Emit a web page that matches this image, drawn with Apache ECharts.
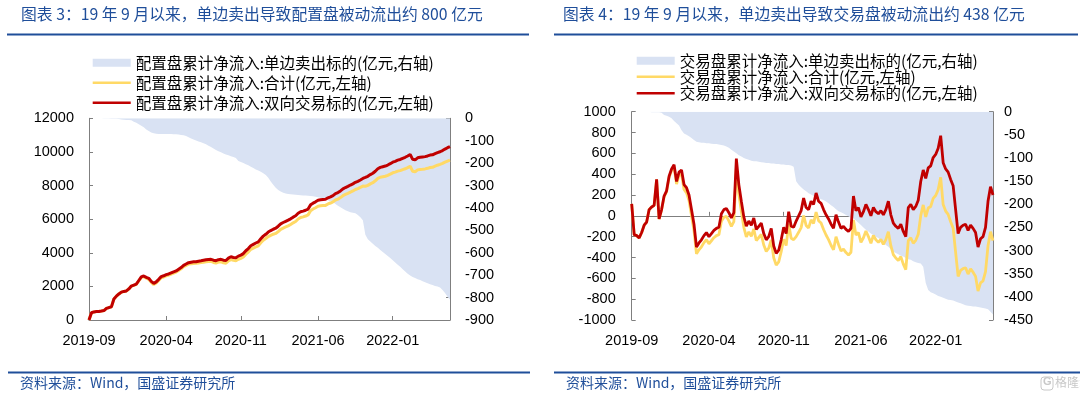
<!DOCTYPE html>
<html>
<head>
<meta charset="utf-8">
<script src="https://cdn.jsdelivr.net/npm/echarts@6/dist/echarts.min.js"></script>
<style>
html,body{margin:0;padding:0;background:#fff;}
#c{width:1080px;height:408px;}
</style>
</head>
<body>
<div id="c"></div>
<script>
// ---------- data ----------
const startWeek = '2019-09-02';
const weekCount = 146;
const tickLabels = ['2019-09', '2020-04', '2020-11', '2021-06', '2022-01'];

const categories = [];
(function () {
  const d0 = new Date(startWeek + 'T00:00:00Z');
  for (let i = 0; i < weekCount; i++) {
    const d = new Date(d0.getTime() + i * 7 * 86400000);
    categories.push(d.toISOString().slice(0, 10));
  }
})();

// Chart 3 (配置盘)
const peiOneSide = [
  0,0,0,0,0,0,-1,-1,-1,-2,-2,
  -2,-3,-5,-7,-8,-8,-9,-15,-20,-27,
  -33,-40,-50,-57,-63,-67,-69,-70,-70,-70,
  -70,-70,-70,-71,-71,-72,-74,-76,-79,-84,
  -90,-95,-99,-103,-107,-111,-116,-122,-128,-135,
  -141,-147,-152,-157,-161,-165,-169,-173,-177,-190,
  -195,-200,-205,-210,-216,-222,-228,-233,-238,-245,
  -253,-265,-282,-296,-310,-320,-327,-332,-336,-338,
  -339,-340,-341,-342,-343,-344,-345,-346,-347,-348,
  -350,-352,-355,-358,-362,-366,-370,-374,-382,-390,
  -397,-404,-410,-415,-419,-422,-424,-432,-442,-455,
  -520,-540,-550,-560,-570,-578,-588,-597,-606,-614,
  -623,-633,-643,-653,-662,-673,-684,-694,-701,-708,
  -713,-718,-722,-727,-731,-736,-740,-744,-748,-751,
  -755,-766,-780,-796,-808
];
const peiTotal = [
  0,430,480,500,510,530,559,689,739,778,1248,
  1418,1547,1655,1693,1722,1842,2011,2065,2120,2323,
  2527,2580,2490,2423,2237,2113,2201,2350,2510,2560,
  2630,2670,2730,2789,2849,2948,3046,3174,3251,3326,
  3350,3365,3371,3397,3413,3439,3464,3478,3482,3425,
  3389,3443,3458,3403,3379,3515,3591,3547,3523,3610,
  3665,3750,3915,4040,4204,4278,4352,4417,4592,4745,
  4847,4965,5038,5104,5150,5260,5393,5468,5534,5602,
  5681,5780,5859,6008,6097,6136,6185,6254,6503,6602,
  6680,6768,6795,6812,6818,6904,6960,7026,7138,7190,
  7283,7396,7470,7535,7611,7678,7766,7818,7888,7965,
  7960,8010,8100,8170,8280,8422,8492,8523,8554,8606,
  8677,8757,8797,8857,8888,8947,8996,9066,9149,8852,
  8817,8932,8958,8973,8989,9024,9070,9086,9152,9209,
  9255,9314,9390,9454,9512
];
const peiTwoWay = [
  0,430,480,500,510,530,560,690,740,780,1250,
  1420,1550,1660,1700,1730,1850,2020,2080,2140,2350,
  2560,2620,2540,2480,2300,2180,2270,2420,2580,2630,
  2700,2740,2800,2860,2920,3020,3120,3250,3330,3410,
  3440,3460,3470,3500,3520,3550,3580,3600,3610,3560,
  3530,3590,3610,3560,3540,3680,3760,3720,3700,3800,
  3860,3950,4120,4250,4420,4500,4580,4650,4830,4990,
  5100,5230,5320,5400,5460,5580,5720,5800,5870,5940,
  6020,6120,6200,6350,6440,6480,6530,6600,6850,6950,
  7030,7120,7150,7170,7180,7270,7330,7400,7520,7580,
  7680,7800,7880,7950,8030,8100,8190,8250,8330,8420,
  8480,8550,8650,8730,8850,9000,9080,9120,9160,9220,
  9300,9390,9440,9510,9550,9620,9680,9760,9850,9560,
  9530,9650,9680,9700,9720,9760,9810,9830,9900,9960,
  10010,10080,10170,10250,10320
];

// Chart 4 (交易盘)
const jyOneSide = [
  0,0,0,0,0,0,0,0,-1,-1,-1,
  -1,-2,-7,-9,-11,-14,-20,-25,-30,-40,
  -47,-50,-53,-57,-61,-65,-66,-67,-67,-68,
  -68,-69,-70,-70,-71,-72,-73,-75,-78,-82,
  -86,-90,-94,-97,-100,-102,-104,-106,-107,-107,
  -108,-109,-110,-111,-111,-112,-112,-113,-113,-114,
  -114,-115,-115,-116,-119,-150,-158,-163,-168,-172,
  -176,-179,-182,-184,-186,-189,-191,-194,-198,-202,
  -206,-211,-215,-217,-220,-223,-226,-229,-230,-235,
  -240,-245,-250,-255,-259,-263,-267,-270,-273,-277,
  -283,-288,-292,-297,-302,-305,-308,-311,-313,-316,
  -319,-320,-323,-325,-327,-328,-335,-370,-385,-390,
  -392,-395,-398,-400,-402,-404,-406,-407,-408,-410,
  -412,-414,-416,-418,-419,-420,-421,-421,-422,-423,
  -424,-425,-427,-432,-438
];
const jyTotal = [
  115,-180,-190,-211,-160,-90,-60,60,84,99,349,
  -31,58,183,231,369,436,470,305,390,400,
  253,220,147,3,-141,-365,-326,-297,-257,-228,
  -268,-239,-210,-190,-181,-52,-13,-5,-48,-102,
  -56,460,206,43,-110,-202,-154,-196,-127,-237,
  -208,-179,-280,-341,-311,-232,-402,-473,-443,-344,
  -224,-285,-75,-216,-229,-200,-158,-113,2,-92,
  -116,-39,-72,36,-46,-69,-131,-184,-228,-282,
  -326,-201,-275,-337,-320,-353,-376,-349,-40,-185,
  -160,-255,-210,-145,-199,-263,-187,-230,-253,-227,
  -273,-228,-152,-287,-372,-405,-428,-391,-463,-516,
  -239,-210,-263,-235,-177,2,105,-10,75,90,
  168,195,252,370,108,46,14,-57,-118,-350,
  -582,-524,-506,-498,-559,-510,-541,-581,-722,-643,
  -624,-535,-287,-152,-238
];
const jyTwoWay = [
  115,-180,-190,-211,-160,-90,-60,60,85,100,350,
  -30,60,190,240,380,450,490,330,420,440,
  300,270,200,60,-80,-300,-260,-230,-190,-160,
  -200,-170,-140,-120,-110,20,60,70,30,-20,
  30,550,300,140,-10,-100,-50,-90,-20,-130,
  -100,-70,-170,-230,-200,-120,-290,-360,-330,-230,
  -110,-170,40,-100,-110,-50,0,50,170,80,
  60,140,110,220,140,120,60,10,-30,-80,
  -120,10,-60,-120,-100,-130,-150,-120,190,50,
  80,-10,40,110,60,0,80,40,20,50,
  10,60,140,10,-70,-100,-120,-80,-150,-200,
  80,110,60,90,150,330,440,360,460,480,
  560,590,650,770,510,450,420,350,290,60,
  -170,-110,-90,-80,-140,-90,-120,-160,-300,-220,
  -200,-110,140,280,200
];

const names3 = ['配置盘累计净流入:单边卖出标的(亿元,右轴)', '配置盘累计净流入:合计(亿元,左轴)', '配置盘累计净流入:双向交易标的(亿元,左轴)'];
const names4 = ['交易盘累计净流入:单边卖出标的(亿元,右轴)', '交易盘累计净流入:合计(亿元,左轴)', '交易盘累计净流入:双向交易标的(亿元,左轴)'];
const title3 = '图表 3：19 年 9 月以来，单边卖出导致配置盘被动流出约 800 亿元';
const title4 = '图表 4：19 年 9 月以来，单边卖出导致交易盘被动流出约 438 亿元';
const sourceText = '资料来源：Wind，国盛证券研究所';

// ---------- styles ----------
const AREA = '#D9E2F3', YELLOW = '#FFD966', RED = '#C00000', AXIS = '#7F7F7F', BLUE = '#1F4E9A';
const NUM_FONT = 'Liberation Sans';
const CJK_FONT = 'Noto Sans CJK SC';
const LINE_ICON = 'path://M0,0 H38 V2.6 H0 Z';

function isTick(idx, val) {
  const m = val.slice(0, 7);
  if (tickLabels.indexOf(m) < 0) return false;
  return idx === 0 || categories[idx - 1].slice(0, 7) !== m;
}

function labelXAxis(gridIndex, extra) {
  return Object.assign({
    type: 'category', gridIndex: gridIndex, data: categories, boundaryGap: false,
    axisLine: { show: true, onZero: false, lineStyle: { color: AXIS, width: 1 } },
    axisTick: { show: true, inside: true, length: 4, interval: isTick, lineStyle: { color: AXIS } },
    axisLabel: { show: true, interval: isTick, formatter: v => v.slice(0, 7), fontSize: 14.5, color: '#000', fontFamily: NUM_FONT, margin: 13 },
    splitLine: { show: false }
  }, extra || {});
}

function yAx(gridIndex, min, max, interval, pos, margin) {
  return {
    type: 'value', gridIndex: gridIndex, min: min, max: max, interval: interval, position: pos,
    axisLine: { show: true, lineStyle: { color: AXIS, width: 1 } },
    axisTick: { show: true, inside: true, length: 4, lineStyle: { color: AXIS } },
    axisLabel: { fontSize: 14.5, color: '#000', fontFamily: NUM_FONT, margin: margin, formatter: v => String(v) },
    splitLine: { show: false }
  };
}

function legendItem(name, icon, color, left, centerY) {
  return {
    orient: 'vertical', left: left, top: centerY - 8, itemWidth: 38, itemHeight: 8, itemGap: 0,
    padding: 0, selectedMode: false,
    textStyle: { fontSize: 15.5, lineHeight: 16, height: 16, color: '#000', fontFamily: CJK_FONT, padding: [0, 0, 0, 0] },
    data: [{ name: name, icon: icon, itemStyle: { color: color } }]
  };
}

const chart = echarts.init(document.getElementById('c'), null, { renderer: 'canvas' });

const option = {
  animation: false,
  backgroundColor: '#fff',
  grid: [
    { left: 89, right: 630, top: 118.3, bottom: 88 },
    { left: 631.7, right: 87, top: 111.7, bottom: 88 }
  ],
  legend: [
    legendItem(names3[0], 'rect', AREA, 92.7, 62.7),
    legendItem(names3[1], LINE_ICON, YELLOW, 92.7, 82.7),
    legendItem(names3[2], LINE_ICON, RED, 92.7, 102.7),
    legendItem(names4[0], 'rect', AREA, 636.7, 60.7),
    legendItem(names4[1], LINE_ICON, YELLOW, 636.7, 76.8),
    legendItem(names4[2], LINE_ICON, RED, 636.7, 93.3)
  ],
  xAxis: [
    labelXAxis(0),
    {
      type: 'category', gridIndex: 1, data: categories, boundaryGap: false,
      axisLine: { show: true, onZero: true, lineStyle: { color: AXIS, width: 1 } },
      axisTick: { show: true, inside: true, length: 4, interval: isTick, lineStyle: { color: AXIS } },
      axisLabel: { show: false },
      splitLine: { show: false }
    },
    labelXAxis(1, {
      position: 'bottom',
      axisLine: { show: false, onZero: false },
      axisTick: { show: false }
    })
  ],
  yAxis: [
    yAx(0, 0, 12000, 2000, 'left', 15),
    yAx(0, -900, 0, 100, 'right', 15),
    yAx(1, -1000, 1000, 200, 'left', 16),
    yAx(1, -450, 0, 50, 'right', 11)
  ],
  series: [
    { name: names3[0], type: 'line', xAxisIndex: 0, yAxisIndex: 1, data: peiOneSide, symbol: 'none',
      itemStyle: { color: AREA }, lineStyle: { width: 0, color: AREA }, areaStyle: { color: AREA, opacity: 1 }, z: 1 },
    { name: names3[1], type: 'line', xAxisIndex: 0, yAxisIndex: 0, data: peiTotal, symbol: 'none',
      itemStyle: { color: YELLOW }, lineStyle: { width: 3, color: YELLOW }, z: 2 },
    { name: names3[2], type: 'line', xAxisIndex: 0, yAxisIndex: 0, data: peiTwoWay, symbol: 'none',
      itemStyle: { color: RED }, lineStyle: { width: 3, color: RED }, z: 3 },

    { name: names4[0], type: 'line', xAxisIndex: 1, yAxisIndex: 3, data: jyOneSide, symbol: 'none',
      itemStyle: { color: AREA }, lineStyle: { width: 0, color: AREA }, areaStyle: { color: AREA, opacity: 1 }, z: 1 },
    { name: names4[1], type: 'line', xAxisIndex: 1, yAxisIndex: 2, data: jyTotal, symbol: 'none',
      itemStyle: { color: YELLOW }, lineStyle: { width: 2.8, color: YELLOW }, z: 2 },
    { name: names4[2], type: 'line', xAxisIndex: 1, yAxisIndex: 2, data: jyTwoWay, symbol: 'none',
      itemStyle: { color: RED }, lineStyle: { width: 2.8, color: RED }, z: 3 }
  ],
  graphic: [
    { type: 'text', left: 21, top: 6, style: { text: title3, fill: BLUE, font: '15.8px "Noto Sans CJK SC"' } },
    { type: 'rect', shape: { x: 7, y: 33.5, width: 522, height: 2 }, style: { fill: BLUE } },
    { type: 'text', left: 563, top: 6, style: { text: title4, fill: BLUE, font: '15.8px "Noto Sans CJK SC"' } },
    { type: 'rect', shape: { x: 554, y: 33.5, width: 524, height: 2 }, style: { fill: BLUE } },

    { type: 'rect', shape: { x: 8, y: 371.5, width: 522, height: 2 }, style: { fill: BLUE } },
    { type: 'text', left: 20, top: 376, style: { text: sourceText, fill: BLUE, font: '14px "Noto Sans CJK SC"' } },
    { type: 'rect', shape: { x: 554, y: 371.5, width: 526, height: 2 }, style: { fill: BLUE } },
    { type: 'text', left: 566, top: 376, style: { text: sourceText, fill: BLUE, font: '14px "Noto Sans CJK SC"' } },

    { type: 'rect', shape: { x: 1041, y: 377, width: 12, height: 13, r: 3 }, style: { fill: 'none', stroke: '#c8c8c8', lineWidth: 1 } },
    { type: 'text', left: 1043, top: 376, style: { text: 'G', fill: '#c8c8c8', font: 'bold 11px "Liberation Sans"' } },
    { type: 'text', left: 1055, top: 376, style: { text: '格隆汇', fill: '#c8c8c8', font: '12px "Noto Sans CJK SC"' } }
  ]
};

chart.setOption(option);
</script>
</body>
</html>
